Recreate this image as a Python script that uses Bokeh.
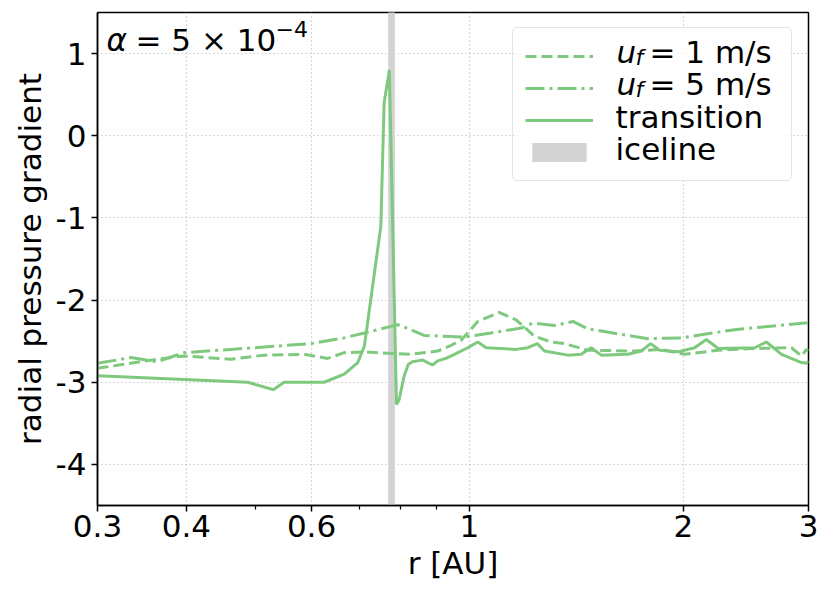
from bokeh.plotting import figure
from bokeh.models import (FixedTicker, NumeralTickFormatter, Range1d, Legend,
                          LegendItem, Label, BoxAnnotation)
from bokeh.embed import file_html
from bokeh.resources import INLINE

# ---------------- data ----------------
r_transition = [0.30, 0.488, 0.530, 0.549, 0.625, 0.667, 0.697, 0.712, 0.727, 0.751,
                0.759, 0.772, 0.790, 0.797, 0.810, 0.821, 0.832, 0.846, 0.860, 0.888,
                0.903, 0.927, 0.953, 0.995, 1.028, 1.056, 1.164, 1.209, 1.246, 1.276,
                1.376, 1.437, 1.484, 1.533, 1.672, 1.746, 1.799, 1.853, 1.966, 2.075,
                2.155, 2.239, 2.521, 2.618, 2.749, 2.933, 2.981, 3.0]
g_transition = [-2.92, -3.00, -3.09, -3.00, -3.00, -2.90, -2.76, -2.56, -1.99, -1.10,
                0.40, 0.80, -3.27, -3.21, -2.92, -2.78, -2.75, -2.74, -2.73, -2.79,
                -2.74, -2.71, -2.66, -2.58, -2.51, -2.58, -2.60, -2.58, -2.53, -2.62,
                -2.67, -2.66, -2.58, -2.67, -2.66, -2.62, -2.53, -2.61, -2.63, -2.58,
                -2.48, -2.59, -2.58, -2.51, -2.66, -2.76, -2.77, -2.74]

r_uf1 = [0.30, 0.364, 0.397, 0.462, 0.515, 0.586, 0.632, 0.667, 0.712, 0.776,
         0.828, 0.903, 0.943, 0.974, 1.028, 1.102, 1.164, 1.235, 1.304, 1.361,
         1.468, 1.709, 1.863, 2.009, 2.239, 2.494, 2.839, 2.933, 2.981, 3.0]
g_uf1 = [-2.83, -2.72, -2.68, -2.72, -2.67, -2.66, -2.71, -2.64, -2.63, -2.65,
         -2.66, -2.62, -2.55, -2.49, -2.26, -2.15, -2.24, -2.44, -2.51, -2.53,
         -2.61, -2.62, -2.60, -2.66, -2.61, -2.59, -2.58, -2.68, -2.60, -2.62]

r_uf5 = [0.30, 0.334, 0.364, 0.397, 0.462, 0.599, 0.667, 0.712, 0.776, 0.793,
         0.828, 0.864, 0.984, 1.073, 1.183, 1.229, 1.318, 1.399, 1.468, 1.784,
         1.987, 2.362, 2.964, 3.0]
g_uf5 = [-2.77, -2.70, -2.75, -2.64, -2.60, -2.53, -2.46, -2.40, -2.32, -2.30,
         -2.36, -2.43, -2.45, -2.40, -2.34, -2.28, -2.31, -2.26, -2.35, -2.47,
         -2.46, -2.36, -2.28, -2.28]

iceline_left = [0.769]
iceline_right = [0.786]
iceline_bottom = [-10]
iceline_top = [10]

x_ticks = [0.3, 0.4, 0.6, 1, 2, 3]
x_minor_ticks = [0.5, 0.7, 0.8, 0.9]
y_ticks = [-4, -3, -2, -1, 0, 1]

legend_labels = [("u", "f", "= 1 m/s"), ("u", "f", "= 5 m/s"), "transition", "iceline"]

# ---------------- styling ----------------
GREEN = "#7fc97f"
FONT = "DejaVu Sans"
FS = "31px"

p = figure(x_axis_type="log", frame_width=711, frame_height=493,
           min_border_left=97, min_border_right=22, min_border_top=12,
           min_border_bottom=97, output_backend="svg", toolbar_location=None,
           x_range=Range1d(0.3, 3), y_range=Range1d(-4.5, 1.5))
p.background_fill_color = "white"
p.border_fill_color = "white"
p.outline_line_color = "black"
p.outline_line_width = 1.5

ice = p.quad(left=iceline_left, right=iceline_right, bottom=iceline_bottom,
             top=iceline_top, fill_color="#d3d3d3", line_color=None)
l1 = p.line(r_uf1, g_uf1, line_color=GREEN, line_width=3, line_dash="11 5")
l5 = p.line(r_uf5, g_uf5, line_color=GREEN, line_width=3, line_dash="19 5 3 5")
lt = p.line(r_transition, g_transition, line_color=GREEN, line_width=3)

# axes
p.xaxis.ticker = FixedTicker(ticks=x_ticks, minor_ticks=x_minor_ticks)
p.xaxis.formatter = NumeralTickFormatter(format="0.[0]")
p.yaxis.ticker = FixedTicker(ticks=y_ticks, minor_ticks=[])
p.yaxis.formatter = NumeralTickFormatter(format="0")
p.xaxis.axis_label = "r [AU]"
p.yaxis.axis_label = "radial pressure gradient"
for ax in (p.xaxis[0], p.yaxis[0]):
    ax.major_label_text_font = FONT
    ax.major_label_text_font_size = FS
    ax.major_label_text_color = "black"
    ax.axis_label_text_font = FONT
    ax.axis_label_text_font_size = FS
    ax.axis_label_text_font_style = "normal"
    ax.axis_label_text_color = "black"
    ax.axis_line_color = "black"
    ax.axis_line_width = 1.5
    ax.major_tick_line_color = "black"
    ax.major_tick_line_width = 1.5
    ax.major_tick_out = 6
    ax.major_tick_in = 0
    ax.minor_tick_line_color = "black"
    ax.minor_tick_line_width = 1.2
    ax.minor_tick_out = 4
    ax.minor_tick_in = 0
p.xaxis.major_label_standoff = 3
p.yaxis.major_label_standoff = 5

for g in (p.xgrid[0], p.ygrid[0]):
    g.grid_line_color = "#b0b0b0"
    g.grid_line_dash = "1 3"
    g.grid_line_width = 1.2

# translucent white legend background hiding the grid (drawn under the texts)
p.add_layout(BoxAnnotation(left=1.158, right=2.83, top=1.31, bottom=-0.54,
                           fill_color="white", fill_alpha=0.85, line_color=None,
                           level="underlay"))

# legend (text drawn as labels below, to allow math-style subscripts)
legend = Legend(items=[LegendItem(label=" ", renderers=[l1]),
                       LegendItem(label=" ", renderers=[l5]),
                       LegendItem(label=" ", renderers=[lt]),
                       LegendItem(label=" ", renderers=[ice])],
                location=(415, 324), padding=12, spacing=0, margin=0,
                glyph_width=68, glyph_height=24, label_height=32, label_width=160,
                label_standoff=26, label_text_font_size="24px",
                border_line_color="#cccccc", border_line_width=1.5,
                border_radius=5, background_fill_alpha=0)
p.add_layout(legend)

SHIFT = 14

def lab(text, dx, dy, size=FS, style="normal"):
    p.add_layout(Label(x=0.3, y=1.5, x_offset=dx, y_offset=dy + SHIFT, text=text,
                       text_font=FONT, text_font_size=size, text_font_style=style,
                       text_color="black", text_baseline="alphabetic",
                       text_align="left"))

# alpha annotation
lab("α", 9, -41, style="italic")
lab("= 5 × 10", 38, -41)
lab("−4", 178, -30, size="22px")

# legend texts
row_base = [-53, -85, -118, -150]
for i, item in enumerate(legend_labels):
    if isinstance(item, tuple):
        lab(item[0], 519, row_base[i], style="italic")
        lab(item[1], 538, row_base[i] - 6, size="22px", style="italic")
        lab(item[2], 552, row_base[i])
    else:
        lab(item, 518, row_base[i])

open("out.html", "w").write(file_html(p, INLINE))
